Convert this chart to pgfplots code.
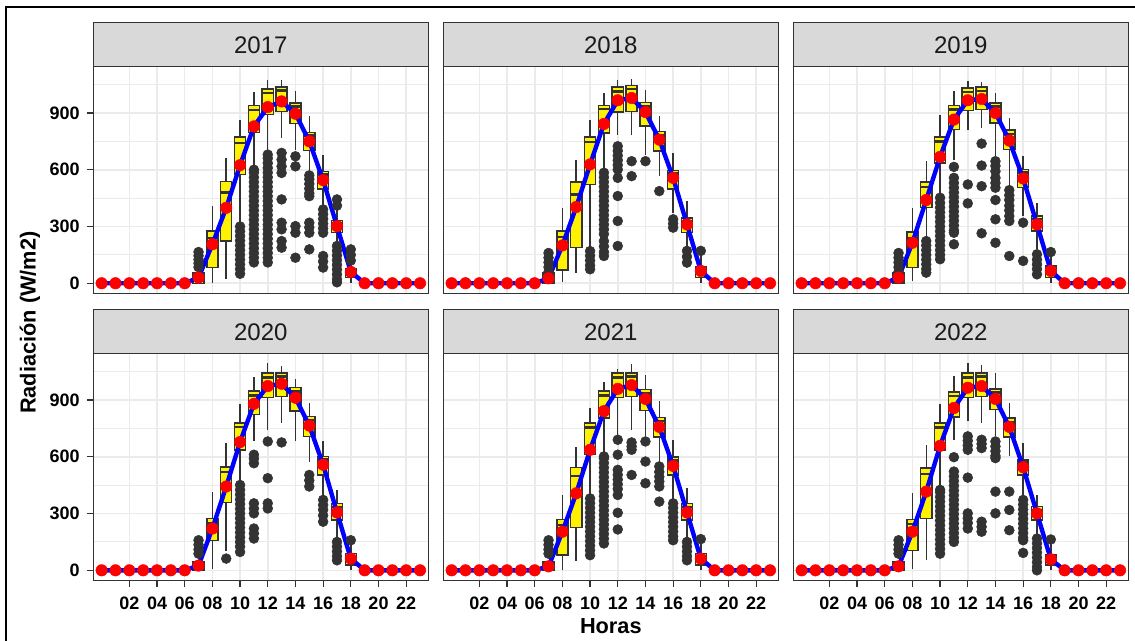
\documentclass[border=0pt]{standalone}
\usepackage{fontspec}
\setmainfont{Liberation Sans}
\usepackage{pgfplots}
\usepackage{pgfplotstable}
\pgfplotsset{compat=1.18}
\definecolor{g20}{HTML}{333333}
\definecolor{g85}{HTML}{D9D9D9}
\definecolor{g92}{HTML}{EBEBEB}
\definecolor{g10}{HTML}{1A1A1A}

% ---------- box statistics and hourly mean, one table per year ----------
\pgfplotstableread{
h lw q1 med q3 uw mn
0 0 0 0 0 0 0
1 0 0 0 0 0 0
2 0 0 0 0 0 0
3 0 0 0 0 0 0
4 0 0 0 0 0 0
5 0 0 0 0 0 0
6 0 0 0 0 0 0
7 0 0 12 55 60 30
8 0 83 240 276 408 206
9 21 223 480 539 662 399
10 310 575 741 773 864 624
11 601 798 917 940 1010 829
12 689 891 1005 1026 1072 931
13 768 908 1019 1037 1072 961
14 706 843 935 952 1014 896
15 575 703 780 798 882 750
16 399 499 575 592 680 545
17 206 267 320 332 400 302
18 0 30 50 77 110 60
19 0 0 0 0 0 0
20 0 0 0 0 0 0
21 0 0 0 0 0 0
22 0 0 0 0 0 0
23 0 0 0 0 0 0
}\tA
\pgfplotstableread{
h lw q1 med q3 uw mn
0 0 0 0 0 0 0
1 0 0 0 0 0 0
2 0 0 0 0 0 0
3 0 0 0 0 0 0
4 0 0 0 0 0 0
5 0 0 0 0 0 0
6 0 0 0 0 0 0
7 0 0 10 55 60 26
8 7 70 245 276 399 200
9 56 188 470 536 654 403
10 180 522 745 773 865 628
11 592 795 921 940 1006 842
12 786 904 1014 1037 1072 967
13 781 909 1027 1044 1079 979
14 680 830 935 956 1023 905
15 566 698 785 803 883 759
16 373 499 580 596 686 557
17 188 267 330 346 434 311
18 0 30 60 88 150 65
19 0 0 0 0 0 0
20 0 0 0 0 0 0
21 0 0 0 0 0 0
22 0 0 0 0 0 0
23 0 0 0 0 0 0
}\tB
\pgfplotstableread{
h lw q1 med q3 uw mn
0 0 0 0 0 0 0
1 0 0 0 0 0 0
2 0 0 0 0 0 0
3 0 0 0 0 0 0
4 0 0 0 0 0 0
5 0 0 0 0 0 0
6 0 0 0 0 0 0
7 0 0 10 55 60 30
8 12 83 240 271 399 214
9 232 399 510 534 645 440
10 470 636 750 773 891 668
11 654 812 918 939 1014 865
12 812 914 1010 1032 1067 967
13 821 918 1015 1037 1062 974
14 670 847 935 953 1006 900
15 505 707 790 809 874 754
16 355 505 585 601 675 554
17 179 276 340 355 425 311
18 0 30 60 91 150 65
19 0 0 0 0 0 0
20 0 0 0 0 0 0
21 0 0 0 0 0 0
22 0 0 0 0 0 0
23 0 0 0 0 0 0
}\tC
\pgfplotstableread{
h lw q1 med q3 uw mn
0 0 0 0 0 0 0
1 0 0 0 0 0 0
2 0 0 0 0 0 0
3 0 0 0 0 0 0
4 0 0 0 0 0 0
5 0 0 0 0 0 0
6 0 0 0 0 0 0
7 0 0 8 44 50 25
8 9 159 250 274 416 221
9 100 358 520 545 673 443
10 460 637 757 779 881 678
11 681 823 925 947 1023 880
12 743 912 1020 1044 1094 974
13 779 920 1025 1044 1080 986
14 681 841 945 965 1012 912
15 575 708 795 814 885 765
16 390 504 585 602 681 558
17 165 265 335 354 425 306
18 0 27 60 89 159 62
19 0 0 0 0 0 0
20 0 0 0 0 0 0
21 0 0 0 0 0 0
22 0 0 0 0 0 0
23 0 0 0 0 0 0
}\tD
\pgfplotstableread{
h lw q1 med q3 uw mn
0 0 0 0 0 0 0
1 0 0 0 0 0 0
2 0 0 0 0 0 0
3 0 0 0 0 0 0
4 0 0 0 0 0 0
5 0 0 0 0 0 0
6 0 0 0 0 0 0
7 0 0 8 44 50 21
8 0 80 240 269 398 204
9 50 227 500 543 651 407
10 389 611 755 779 858 637
11 611 805 925 947 997 841
12 708 912 1020 1044 1066 959
13 743 920 1025 1044 1089 979
14 708 846 935 956 1030 906
15 575 704 790 809 894 758
16 372 504 580 598 690 552
17 168 265 335 354 434 306
18 0 27 60 89 150 62
19 0 0 0 0 0 0
20 0 0 0 0 0 0
21 0 0 0 0 0 0
22 0 0 0 0 0 0
23 0 0 0 0 0 0
}\tE
\pgfplotstableread{
h lw q1 med q3 uw mn
0 0 0 0 0 0 0
1 0 0 0 0 0 0
2 0 0 0 0 0 0
3 0 0 0 0 0 0
4 0 0 0 0 0 0
5 0 0 0 0 0 0
6 0 0 0 0 0 0
7 0 0 8 44 50 21
8 9 106 245 269 407 204
9 53 274 510 540 664 416
10 434 637 755 779 881 658
11 690 811 920 943 1027 858
12 788 912 1020 1044 1094 965
13 779 920 1025 1044 1083 974
14 708 850 940 959 1044 906
15 602 704 785 805 885 758
16 389 504 570 584 673 545
17 177 265 320 336 398 301
18 0 27 55 80 150 58
19 0 0 0 0 0 0
20 0 0 0 0 0 0
21 0 0 0 0 0 0
22 0 0 0 0 0 0
23 0 0 0 0 0 0
}\tF

% ---------- outliers (hour, value) ----------
\pgfplotstableread[row sep=\\]{h v\\
7 85\\7 105\\7 125\\7 145\\7 165\\
10 50\\10 75\\10 100\\10 125\\10 150\\10 175\\10 200\\10 225\\10 250\\10 275\\10 300\\
11 110\\11 135\\11 160\\11 185\\11 210\\11 235\\11 260\\11 285\\11 310\\11 335\\11 360\\11 385\\11 410\\11 435\\11 460\\11 485\\11 510\\11 535\\11 560\\11 585\\11 600\\
12 110\\12 135\\12 160\\12 185\\12 210\\12 235\\12 260\\12 285\\12 310\\12 335\\12 360\\12 385\\12 410\\12 435\\12 460\\12 485\\12 510\\12 535\\12 560\\12 585\\12 610\\12 635\\12 660\\12 680\\
13 689\\13 653\\13 618\\13 583\\13 443\\13 320\\13 285\\13 223\\13 188\\
14 671\\14 618\\14 302\\14 267\\14 135\\
15 570\\15 550\\15 525\\15 500\\15 475\\15 460\\15 320\\15 295\\15 267\\15 179\\
16 390\\16 365\\16 340\\16 315\\16 290\\16 267\\16 144\\16 115\\16 83\\
17 443\\17 410\\17 197\\17 172\\17 147\\17 122\\17 97\\17 72\\17 47\\17 22\\17 5\\
18 179\\18 150\\18 120\\
}\oA
\pgfplotstableread[row sep=\\]{h v\\
7 60\\7 85\\7 110\\7 135\\7 160\\
10 74\\10 95\\10 120\\10 145\\10 170\\
11 260\\11 285\\11 310\\11 335\\11 360\\11 385\\11 410\\11 435\\11 460\\11 485\\11 510\\11 535\\11 560\\11 584\\11 144\\11 165\\11 195\\11 223\\
12 601\\12 625\\12 650\\12 675\\12 700\\12 724\\12 557\\12 461\\12 329\\12 197\\
13 645\\13 566\\
14 645\\
15 487\\
16 294\\16 315\\16 338\\
17 109\\17 140\\17 171\\
18 171\\
}\oB
\pgfplotstableread[row sep=\\]{h v\\
7 60\\7 85\\7 110\\7 135\\7 160\\
9 56\\9 75\\9 100\\9 125\\9 150\\9 175\\9 200\\9 223\\
10 127\\10 150\\10 175\\10 200\\10 225\\10 250\\10 275\\10 300\\10 325\\10 350\\10 375\\10 400\\10 425\\10 452\\
11 615\\11 267\\11 280\\11 305\\11 330\\11 355\\11 380\\11 405\\11 430\\11 455\\11 480\\11 505\\11 530\\11 557\\11 206\\
12 522\\12 422\\
13 738\\13 622\\13 513\\13 264\\
14 645\\14 620\\14 592\\14 557\\14 530\\14 505\\14 440\\14 338\\14 214\\
15 492\\15 465\\15 440\\15 410\\15 385\\15 355\\15 329\\15 144\\
16 320\\16 118\\
17 47\\17 75\\17 100\\17 125\\17 153\\
18 165\\
}\oC
\pgfplotstableread[row sep=\\]{h v\\
7 88\\7 110\\7 135\\7 159\\
9 62\\
10 97\\10 125\\10 150\\10 175\\10 200\\10 225\\10 250\\10 275\\10 300\\10 325\\10 350\\10 375\\10 400\\10 425\\10 451\\
11 566\\11 590\\11 611\\11 301\\11 327\\11 354\\11 168\\11 195\\11 221\\
12 681\\12 487\\12 327\\12 354\\
13 676\\
15 443\\15 475\\15 504\\
16 257\\16 290\\16 320\\16 345\\16 372\\
17 53\\17 75\\17 100\\17 125\\17 150\\
18 159\\
}\oD
\pgfplotstableread[row sep=\\]{h v\\
7 88\\7 110\\7 135\\7 159\\
10 80\\10 105\\10 130\\10 155\\10 180\\10 205\\10 230\\10 255\\10 280\\10 305\\10 330\\10 355\\10 380\\
11 142\\11 167\\11 192\\11 217\\11 242\\11 267\\11 292\\11 317\\11 342\\11 367\\11 392\\11 417\\11 442\\11 467\\11 492\\11 517\\11 542\\11 567\\11 592\\11 602\\
12 690\\12 611\\12 531\\12 505\\12 480\\12 455\\12 430\\12 398\\12 304\\12 216\\
13 676\\13 655\\13 637\\13 504\\
14 681\\14 575\\14 460\\
15 549\\15 520\\15 495\\15 470\\15 443\\15 363\\
16 159\\16 180\\16 205\\16 230\\16 255\\16 280\\16 305\\16 330\\16 354\\
17 53\\17 75\\17 100\\17 125\\17 150\\
18 165\\
}\oE
\pgfplotstableread[row sep=\\]{h v\\
7 88\\7 110\\7 135\\7 159\\
10 88\\10 113\\10 138\\10 163\\10 188\\10 213\\10 238\\10 263\\10 288\\10 313\\10 338\\10 363\\10 388\\10 413\\10 425\\
11 598\\11 522\\11 497\\11 472\\11 447\\11 422\\11 397\\11 372\\11 347\\11 322\\11 297\\11 272\\11 247\\11 222\\11 197\\11 172\\11 150\\
12 708\\12 685\\12 660\\12 637\\12 490\\12 301\\12 275\\12 250\\12 221\\
13 690\\13 668\\13 646\\13 257\\13 230\\13 204\\
14 681\\14 655\\14 630\\14 605\\14 593\\14 416\\14 301\\
15 416\\15 319\\15 212\\
16 372\\16 347\\16 322\\16 297\\16 272\\16 247\\16 222\\16 197\\16 172\\16 159\\16 92\\
17 168\\17 143\\17 118\\17 93\\17 68\\17 43\\17 18\\17 0\\
18 163\\
}\oF

\pgfplotsset{
 panel/.style={
   scale only axis, width=251.25pt, height=170pt,
   anchor=south west,
   xmin=-0.6, xmax=23.6, ymin=-54, ymax=1144,
   xtick={2,4,...,22}, xticklabels={02,04,06,08,10,12,14,16,18,20,22},
   ytick={0,300,600,900}, yticklabels={0,300,600,900},
   minor ytick={150,450,750,1050},
   grid=both,
   major grid style={g92, line width=1.2pt},
   minor grid style={g92, line width=0.7pt},
   axis line style={g20, line width=0.9pt},
   tick align=outside, tick pos=left,
   major tick length=5pt, minor tick length=0pt,
   tick style={g20, line width=0.9pt},
   ticklabel style={font=\bfseries\fontsize{13.5}{14}\selectfont, text=black, inner sep=0pt},
   yticklabel style={anchor=east, xshift=-5pt},
   xticklabel style={anchor=north, yshift=-7.4pt},
   /pgf/number format/assume math mode=true,
 },
 noxl/.style={xticklabels={}, xtick style={draw=none}},
 noyl/.style={yticklabels={}, ytick style={draw=none}},
}

% boxes: whiskers, box (Q1-Q3) and median, read row by row from the table
\newcommand{\panelplots}[2]{%
  \pgfplotsinvokeforeach{7,...,18}{%
    \pgfplotstablegetelem{##1}{lw}\of#1\let\bLW\pgfplotsretval
    \pgfplotstablegetelem{##1}{q1}\of#1\let\bQA\pgfplotsretval
    \pgfplotstablegetelem{##1}{med}\of#1\let\bMD\pgfplotsretval
    \pgfplotstablegetelem{##1}{q3}\of#1\let\bQC\pgfplotsretval
    \pgfplotstablegetelem{##1}{uw}\of#1\let\bUW\pgfplotsretval
    \pgfmathsetmacro\xl{##1-0.4}\pgfmathsetmacro\xr{##1+0.4}%
    \edef\bxcmd{%
      \noexpand\addplot[g20, line width=1.1pt] coordinates {(##1,\bLW) (##1,\bQA)};
      \noexpand\addplot[g20, line width=1.1pt] coordinates {(##1,\bQC) (##1,\bUW)};
      \noexpand\addplot[draw=g20, fill=yellow, line width=1.1pt] coordinates {(\xl,\bQA) (\xr,\bQA) (\xr,\bQC) (\xl,\bQC)} -- cycle;
      \noexpand\addplot[g20, line width=1.8pt] coordinates {(\xl,\bMD) (\xr,\bMD)};
    }%
    \bxcmd
  }
  \addplot[only marks, mark=*, mark size=3.7pt, color=g20] table[x=h,y=v] {#2};
  \addplot[blue, line width=3.3pt] table[x=h,y=mn] {#1};
  \addplot[only marks, mark=*, mark size=4.3pt, color=red] table[x=h,y=mn] {#1};
}
\newcommand{\strip}[2]{%
  \draw[g20, fill=g85, line width=0.9pt] (#1.north west) rectangle ([yshift=33pt]#1.north east);
  \node[font=\fontsize{18}{18}\selectfont, text=g10] at ([yshift=16.5pt]#1.north) {#2};
}

\begin{document}
\begin{tikzpicture}
\useasboundingbox (0,0) rectangle (851.25pt,-480.75pt);
\begin{axis}[panel, noxl, name=p1, at={(70pt,-220.1pt)}]
\panelplots{\tA}{\oA}
\end{axis}
\begin{axis}[panel, noxl, noyl, name=p2, at={(332.5pt,-220.1pt)}]
\panelplots{\tB}{\oB}
\end{axis}
\begin{axis}[panel, noxl, noyl, name=p3, at={(595pt,-220.1pt)}]
\panelplots{\tC}{\oC}
\end{axis}
\begin{axis}[panel, name=p4, at={(70pt,-435.4pt)}]
\panelplots{\tD}{\oD}
\end{axis}
\begin{axis}[panel, noyl, name=p5, at={(332.5pt,-435.4pt)}]
\panelplots{\tE}{\oE}
\end{axis}
\begin{axis}[panel, noyl, name=p6, at={(595pt,-435.4pt)}]
\panelplots{\tF}{\oF}
\end{axis}
\strip{p1}{2017}
\strip{p2}{2018}
\strip{p3}{2019}
\strip{p4}{2020}
\strip{p5}{2021}
\strip{p6}{2022}
\node[font=\bfseries\fontsize{16.3}{17}\selectfont] at (458.1pt,-469.5pt) {Horas};
\node[font=\bfseries\fontsize{16.3}{17}\selectfont, rotate=90] at (22.5pt,-242pt) {Radiación (W/m2)};
\draw[black, line width=1.5pt] (4.5pt,-480.75pt) -- (4.5pt,-5pt) -- (851.25pt,-5pt);
\end{tikzpicture}
\end{document}
